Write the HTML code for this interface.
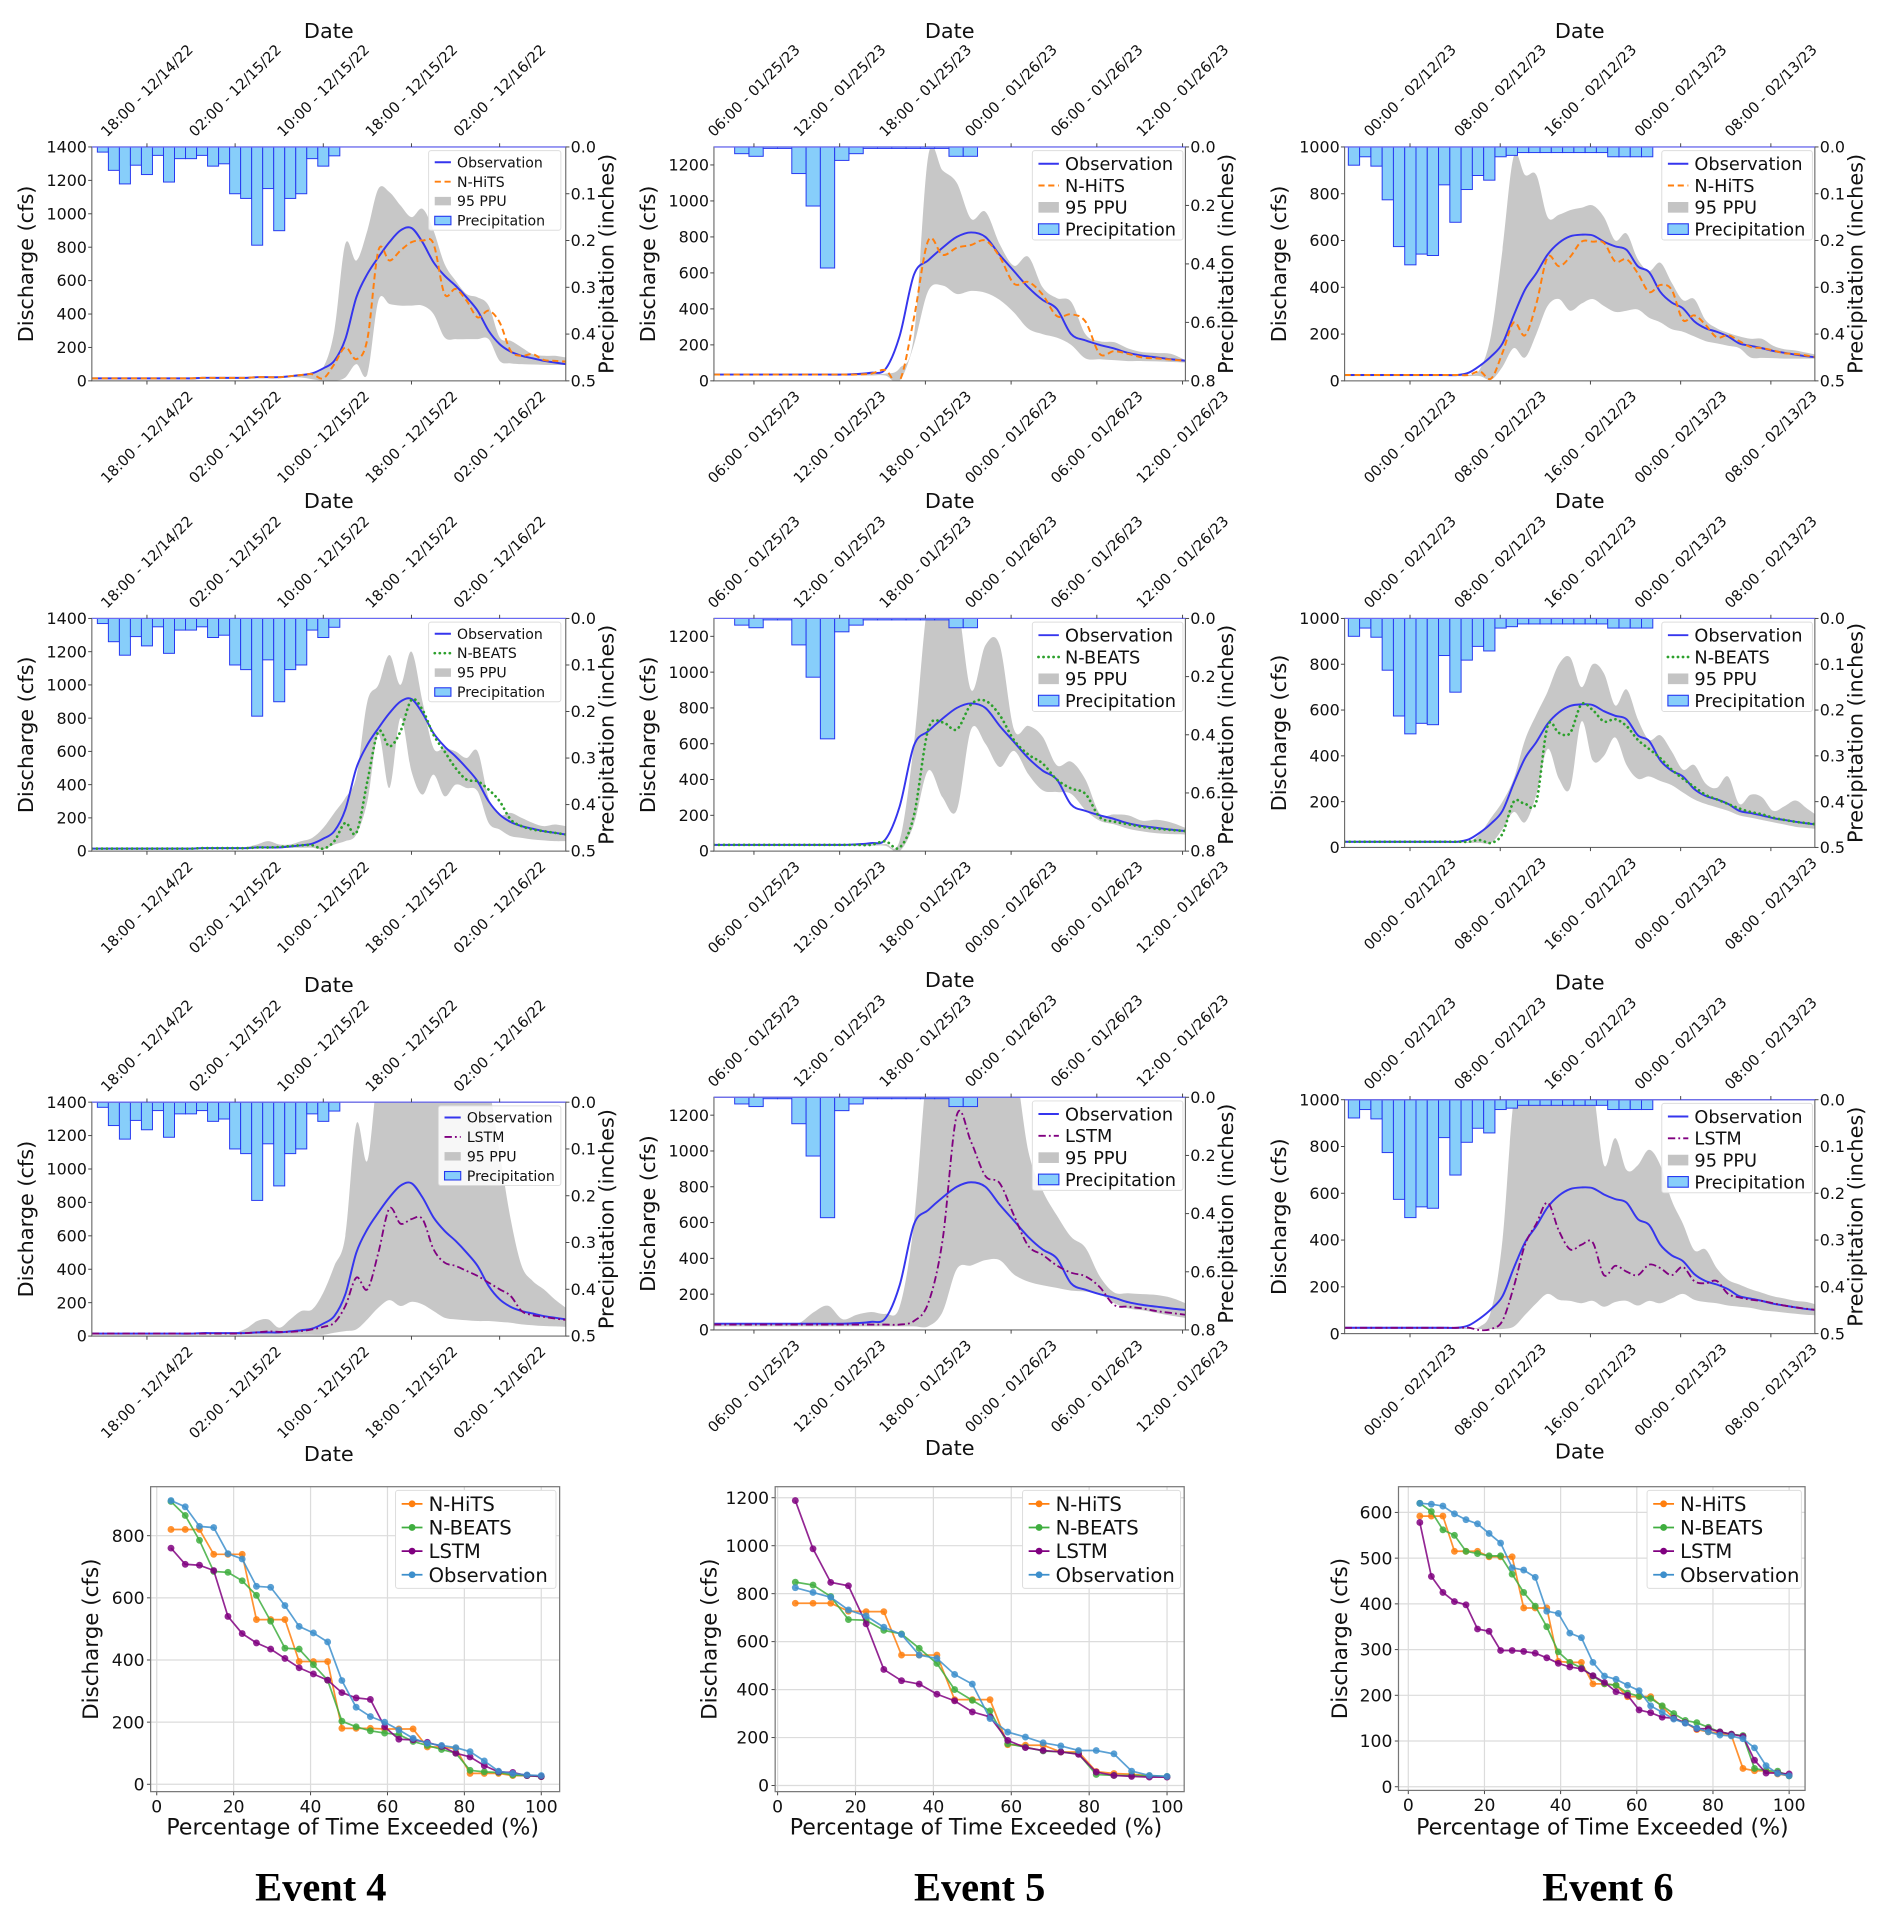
<!DOCTYPE html>
<html><head><meta charset="utf-8"><title>Events 4-6 discharge forecasts</title>
<style>
html,body{margin:0;padding:0;background:#fff;}
svg{display:block;font-family:"DejaVu Sans","Liberation Sans",sans-serif;}
</style></head>
<body>
<svg id="fig" xmlns="http://www.w3.org/2000/svg" width="1892" height="1919" viewBox="0 0 1545 1567" preserveAspectRatio="none">
<rect x="0" y="0" width="1545" height="1567" fill="#fff"/>
</svg>
<script>
// ---------- Event 4 (hourly, start 13:00 12/14/22) ----------
const ev4Ticks = [5, 13, 21, 29, 37];
const ev4TickLabels = ["18:00 - 12/14/22","02:00 - 12/15/22","10:00 - 12/15/22","18:00 - 12/15/22","02:00 - 12/16/22"];
const ev4Precip = [0.011,0.05,0.079,0.039,0.059,0.018,0.075,0.025,0.025,0.018,0.041,0.036,0.1,0.11,0.21,0.089,0.179,0.11,0.1,0.025,0.041,0.019];
const ev4Obs = [15,15,15,15,15,15,15,15,15,15,18,18,18,18,18,22,22,22,28,35,45,75,120,250,500,640,740,830,900,915,830,710,630,570,500,420,300,220,175,150,135,120,110,100];
const ev4NHiTS = [15,15,15,15,15,15,15,15,15,15,18,18,18,18,18,22,22,22,28,35,40,15,100,200,130,250,780,720,780,830,840,820,520,550,480,380,420,350,180,150,160,125,120,115];
const ev4NHiTSUp = [15,15,15,15,15,15,15,15,15,15,18,18,18,18,18,22,22,22,30,40,50,80,300,820,720,900,1150,1130,1050,980,1030,900,700,600,520,500,450,260,240,200,160,150,150,140];
const ev4NHiTSLo = [12,12,12,12,12,12,12,12,12,12,15,15,15,15,15,18,18,18,22,20,10,0,0,20,100,40,480,460,450,450,450,400,260,250,250,250,250,120,105,100,98,96,95,95];
const ev4NBEATS = [15,15,15,15,15,15,15,15,15,15,18,18,18,18,18,22,22,25,30,35,35,15,60,170,110,420,720,630,720,910,850,700,600,500,430,420,370,300,190,150,130,120,110,100];
const ev4NBEATSUp = [15,15,15,15,15,15,15,15,15,15,18,18,18,20,25,40,60,40,40,60,80,140,230,320,450,900,1000,1180,1000,1200,900,620,620,600,560,600,320,220,230,200,170,150,160,150];
const ev4NBEATSLo = [12,12,12,12,12,12,12,12,12,12,15,15,15,15,15,18,18,18,20,20,20,10,40,60,100,300,700,380,800,480,340,460,330,400,380,360,170,130,90,80,70,65,60,60];
const ev4LSTM = [15,15,15,15,15,15,15,15,15,15,15,15,15,15,18,22,28,25,25,30,40,55,80,180,350,280,500,764,673,700,700,520,440,420,390,360,320,280,240,150,125,115,105,97];
const ev4LSTMUp = [15,15,15,15,15,15,15,15,15,15,15,15,15,20,45,90,100,50,100,150,160,260,420,600,1270,1050,1600,1700,1700,1700,1700,1700,1700,1700,1700,1700,1500,1100,700,420,330,280,220,170];
const ev4LSTMLo = [8,8,8,8,8,8,8,8,8,8,8,8,8,8,8,8,8,8,8,8,8,8,20,30,40,100,170,215,180,205,190,150,110,100,95,90,90,85,80,70,65,60,58,55];
const ev4FdcNHiTS = [820,820,820,740,740,740,530,530,530,395,395,395,180,180,180,178,178,178,120,120,115,35,35,35,28,28,25];
const ev4FdcNBEATS = [910,865,785,685,682,655,608,525,438,435,385,335,203,185,172,165,160,138,125,112,100,45,40,38,30,28,25];
const ev4FdcLSTM = [760,708,705,688,540,485,455,435,405,375,355,335,295,278,273,185,145,143,135,122,100,88,60,40,38,28,25];
const ev4FdcObs = [913,893,830,826,742,725,637,634,575,508,487,458,334,248,218,200,175,148,132,125,118,105,75,42,35,30,28];

// ---------- Event 5 (hourly, start 03:00 01/25/23) ----------
const ev5Ticks = [2.8, 8.8, 14.8, 20.8, 26.8, 32.8];
const ev5TickLabels = ["06:00 - 01/25/23","12:00 - 01/25/23","18:00 - 01/25/23","00:00 - 01/26/23","06:00 - 01/26/23","12:00 - 01/26/23"];
const ev5Precip = [0.023,0.032,0.005,0.005,0.091,0.202,0.414,0.046,0.023,0.005,0.005,0.005,0.005,0.005,0.005,0.032,0.032];
const ev5Obs = [35,35,35,35,35,35,35,35,35,35,38,45,65,250,590,670,740,800,825,800,700,610,520,450,400,260,225,200,180,155,140,130,120,112];
const ev5NHiTS = [35,35,35,35,35,35,35,35,35,35,35,40,60,0,350,780,700,740,755,780,690,540,550,480,360,370,330,150,165,150,130,125,118,112];
const ev5NHiTSUp = [40,40,40,40,40,40,40,40,40,40,40,40,40,70,250,1250,1170,1100,900,940,760,640,690,520,460,440,260,220,215,180,160,155,150,115];
const ev5NHiTSLo = [30,30,30,30,30,30,30,30,30,30,30,30,30,0,200,500,530,483,500,490,450,380,290,260,240,200,125,120,115,110,110,108,105,102];
const ev5NBEATS = [35,35,35,35,35,35,35,35,35,35,35,35,55,20,200,680,720,680,820,840,760,620,540,490,400,350,320,190,165,150,135,125,118,112];
const ev5NBEATSUp = [40,40,40,40,40,40,40,40,40,40,40,40,40,60,600,1400,1400,1400,900,1150,1150,680,700,640,480,500,400,210,205,200,170,175,160,130];
const ev5NBEATSLo = [30,30,30,30,30,30,30,30,30,30,30,30,30,0,150,450,300,230,680,600,470,560,430,340,330,320,230,170,150,125,110,100,95,93];
const ev5LSTM = [30,30,30,30,30,30,30,30,30,30,30,30,30,30,50,150,500,1200,1050,860,820,640,470,420,360,320,300,240,140,130,120,105,95,85];
const ev5LSTMUp = [32,32,32,32,32,32,40,100,135,60,85,100,90,130,600,1500,1500,1500,1500,1500,1500,1500,1000,780,640,520,460,300,210,205,200,195,180,150];
const ev5LSTMLo = [20,20,20,20,20,20,20,20,20,20,20,20,20,20,20,20,100,340,360,390,390,310,270,250,235,220,215,200,150,120,110,95,80,67];
const ev5FdcNHiTS = [760,760,760,727,725,725,544,544,544,358,358,358,170,168,168,140,140,58,50,47,40,36];
const ev5FdcNBEATS = [848,836,788,692,689,647,632,572,509,400,355,311,174,160,144,140,132,46,42,42,40,38];
const ev5FdcLSTM = [1188,987,847,833,674,484,437,423,381,353,307,286,188,158,146,140,130,56,42,38,35,35];
const ev5FdcObs = [825,805,785,732,707,660,630,544,530,463,423,279,223,202,178,165,146,146,132,60,42,38];

// ---------- Event 6 (hourly, start ~18:10 02/11/23) ----------
const ev6Ticks = [5.8, 13.8, 21.8, 29.8, 37.8];
const ev6TickLabels = ["00:00 - 02/12/23","08:00 - 02/12/23","16:00 - 02/12/23","00:00 - 02/13/23","08:00 - 02/13/23"];
const ev6Precip = [0.039,0.021,0.041,0.113,0.213,0.252,0.229,0.232,0.081,0.161,0.091,0.061,0.071,0.021,0.018,0.012,0.012,0.012,0.012,0.012,0.012,0.012,0.012,0.021,0.021,0.021,0.021];
const ev6Obs = [25,25,25,25,25,25,25,25,25,25,25,35,65,105,160,280,390,460,540,590,618,625,622,595,575,560,490,465,380,335,310,255,225,210,190,160,150,140,128,120,112,105,100];
const ev6NHiTS = [25,25,25,25,25,25,25,25,25,25,25,25,40,10,120,250,195,330,529,490,530,595,595,590,510,520,460,380,410,390,260,280,240,186,195,170,145,140,130,118,115,108,100];
const ev6NHiTSUp = [25,25,25,25,25,25,25,25,25,25,25,25,50,200,560,960,880,880,700,710,730,740,750,700,600,630,520,470,505,420,345,350,260,225,205,190,180,180,150,135,130,120,110];
const ev6NHiTSLo = [20,20,20,20,20,20,20,20,20,20,20,20,20,5,60,140,100,200,320,350,300,330,350,320,295,300,305,270,250,221,210,190,170,160,150,140,100,98,97,95,95,95,95];
const ev6NBEATS = [25,25,25,25,25,25,25,25,25,25,25,25,32,20,60,200,190,200,530,500,500,625,600,550,560,530,470,430,390,340,300,265,230,210,190,170,155,145,130,120,112,106,100];
const ev6NBEATSUp = [25,25,25,25,25,25,25,25,25,25,25,25,60,130,200,300,470,580,680,800,830,700,800,760,620,690,560,470,490,420,340,360,280,260,310,190,230,220,160,180,205,170,136];
const ev6NBEATSLo = [20,20,20,20,20,20,20,20,20,20,20,20,20,20,80,155,110,230,430,300,260,550,380,400,480,360,300,310,290,272,240,210,190,175,160,140,130,120,110,100,90,85,80];
const ev6LSTM = [25,25,25,25,25,25,25,25,25,25,25,25,15,20,55,200,380,470,560,440,360,380,390,250,290,265,250,295,280,250,285,225,215,225,170,155,145,140,130,120,112,106,100];
const ev6LSTMUp = [25,25,25,25,25,25,25,25,25,25,25,25,30,100,400,1000,1100,1100,1100,1100,1100,1100,1050,720,836,700,720,786,720,570,470,357,360,280,230,210,190,175,160,150,140,135,121];
const ev6LSTMLo = [20,20,20,20,20,20,20,20,20,20,20,20,20,20,20,30,80,130,170,145,140,130,140,115,135,140,120,140,130,150,170,145,135,130,120,115,110,100,95,90,85,80,78];
const ev6FdcNHiTS = [592,592,592,515,515,515,503,503,503,391,391,391,274,272,272,225,225,222,197,197,197,175,150,140,125,120,117,112,40,35,35,28,24];
const ev6FdcNBEATS = [620,602,562,550,515,510,505,505,465,425,395,350,295,272,260,242,225,222,205,198,193,177,160,145,140,130,120,115,112,40,35,34,24];
const ev6FdcLSTM = [578,460,425,405,398,345,340,298,298,296,292,282,270,262,258,243,228,208,200,168,162,152,150,140,127,127,120,115,110,58,30,30,28];
const ev6FdcObs = [620,618,614,597,584,575,554,533,479,474,458,384,379,336,326,272,242,235,222,210,177,163,148,139,128,120,113,111,105,85,46,29,24];

const NS = 'http://www.w3.org/2000/svg';
const svg = document.getElementById('fig');
function mk(tag, attrs, parent){
  const e = document.createElementNS(NS, tag);
  for (const k in attrs) e.setAttribute(k, attrs[k]);
  (parent || svg).appendChild(e);
  return e;
}
function txt(str, x, y, size, anchor, parent){
  const t = mk('text', {x:x, y:y, 'font-size':size, 'text-anchor':anchor || 'middle', fill:'#111'}, parent);
  t.textContent = str;
  return t;
}
function smoothPath(pts){
  let d = 'M' + pts[0][0].toFixed(2) + ',' + pts[0][1].toFixed(2);
  for (let i = 0; i < pts.length - 1; i++){
    const p0 = pts[Math.max(0, i-1)], p1 = pts[i], p2 = pts[i+1], p3 = pts[Math.min(pts.length-1, i+2)];
    const c1x = p1[0] + (p2[0]-p0[0])/6, c1y = p1[1] + (p2[1]-p0[1])/6;
    const c2x = p2[0] - (p3[0]-p1[0])/6, c2y = p2[1] - (p3[1]-p1[1])/6;
    d += ' C' + c1x.toFixed(2) + ',' + c1y.toFixed(2) + ' ' + c2x.toFixed(2) + ',' + c2y.toFixed(2) + ' ' + p2[0].toFixed(2) + ',' + p2[1].toFixed(2);
  }
  return d;
}

const STYLES = {
  'N-HiTS': {stroke:'#ff7f0e', dash:'5,3', width:1.6, cap:'butt'},
  'N-BEATS': {stroke:'#2ca02c', dash:'0.1,4', width:2.2, cap:'round'},
  'LSTM': {stroke:'#800080', dash:'6,2.5,1.5,2.5', width:1.5, cap:'butt'}
};
let clipId = 0;

function drawTS(p){
  const g = mk('g', {});
  
  
  const W = p.x1 - p.x0, H = p.y1 - p.y0;
  const sx = h => p.x0 + h / p.dom * W;
  const sy = v => p.y1 - v / p.ymax * H;
  const sp = v => p.y0 + v / p.pmax * H;
  const cid = 'clip' + (clipId++);
  const defs = mk('defs', {}, g);
  mk('rect', {x:p.x0, y:p.y0, width:W, height:H}, mk('clipPath', {id:cid}, defs));
  const plot = mk('g', {'clip-path':'url(#' + cid + ')'}, g);

  const up = p.up.map((v,i) => [sx(i), sy(v)]);
  const lo = p.lo.map((v,i) => [sx(i), sy(v)]).reverse();
  const band = mk('path', {d: smoothPath(up) + ' L' + smoothPath(lo).slice(1) + ' Z', fill:'#c4c4c4', stroke:'none', opacity:'0.95'}, plot);
  
  

  const obs = mk('path', {d: smoothPath(p.obs.map((v,i) => [sx(i), sy(v)])), fill:'none', stroke:'#3535ee', 'stroke-width':1.6}, plot);
  
  

  const st = STYLES[p.model];
  const ml = mk('path', {d: smoothPath(p.pred.map((v,i) => [sx(i), sy(v)])), fill:'none', stroke:st.stroke, 'stroke-width':st.width, 'stroke-dasharray':st.dash, 'stroke-linecap':st.cap}, plot);
  
  

  const bw = sx(1) - sx(0);
  p.precip.forEach((v,i) => {
    const r = mk('rect', {x: sx(p.barOff + i), y: p.y0, width: bw, height: Math.max(0.6, sp(v) - p.y0), fill:'#87cefa', stroke:'#2638f0', 'stroke-width':0.8}, plot);
    
    
  });

  mk('rect', {x:p.x0, y:p.y0, width:W, height:H, fill:'none', stroke:'#666', 'stroke-width':0.9}, g);
  mk('line', {x1:p.x0, y1:p.y0, x2:p.x1, y2:p.y0, stroke:'#6a6af5', 'stroke-width':1}, g);

  for (let v = 0; v <= p.ymax + 0.1; v += p.ystep){
    const y = sy(v);
    mk('line', {x1:p.x0-3, y1:y, x2:p.x0, y2:y, stroke:'#444', 'stroke-width':0.8}, g);
    const t = txt(String(v), p.x0 - 4, y + 4.6, 13, 'end', g);
    
    
  }
  for (let v = 0; v <= p.pmax + 1e-9; v += p.pstep){
    const y = sp(v);
    mk('line', {x1:p.x1, y1:y, x2:p.x1+3, y2:y, stroke:'#444', 'stroke-width':0.8}, g);
    const t = txt(v.toFixed(1), p.x1 + 4, y + 4.6, 13, 'start', g);
    
    
  }
  p.ticks.forEach((h,i) => {
    const x = sx(h);
    mk('line', {x1:x, y1:p.y1, x2:x, y2:p.y1+3, stroke:'#444', 'stroke-width':0.8}, g);
    mk('line', {x1:x, y1:p.y0-3, x2:x, y2:p.y0, stroke:'#444', 'stroke-width':0.8}, g);
    const tb = txt(p.labels[i], 0, 4, 12, 'middle', g);
    tb.setAttribute('transform', 'translate(' + x + ',' + (p.y1 + 46) + ') rotate(-45)');
    
    
    const tt = txt(p.labels[i], 0, 4, 12, 'middle', g);
    tt.setAttribute('transform', 'translate(' + x + ',' + (p.y0 - 46) + ') rotate(-45)');
    
    
  });
  const yl = txt('Discharge (cfs)', 0, 0, 17, 'middle', g);
  yl.setAttribute('transform', 'translate(' + (p.x0 - 48) + ',' + (p.y0 + H/2) + ') rotate(-90)');
  
  
  const pl = txt('Precipitation (inches)', 0, 0, 17, 'middle', g);
  pl.setAttribute('transform', 'translate(' + (p.x1 + 39) + ',' + (p.y0 + H/2) + ') rotate(-90)');
  
  
  const dt = txt('Date', (p.x0 + p.x1)/2, p.dateTop, 17, 'middle', g);
  
  
  if (p.dateBottom){
    const db = txt('Date', (p.x0 + p.x1)/2, p.dateBottom, 17, 'middle', g);
    
    
  }

  const L = p.leg;
  const lg = mk('g', {}, g);
  
  
  mk('rect', {x:L.x, y:L.y, width:L.w, height:L.h, rx:2, fill:'#fff', 'fill-opacity':0.85, stroke:'#ddd', 'stroke-width':0.8}, lg);
  const rowH = L.h / 4.1, fs = L.fs, sw = L.fs * 1.15;
  const names = ['Observation', p.model, '95 PPU', 'Precipitation'];
  names.forEach((nm, i) => {
    const cy = L.y + rowH * (i + 0.6);
    const sx0 = L.x + 5, sx1 = sx0 + sw;
    if (i === 0) mk('line', {x1:sx0, y1:cy, x2:sx1, y2:cy, stroke:'#3535ee', 'stroke-width':1.6}, lg);
    if (i === 1) mk('line', {x1:sx0, y1:cy, x2:sx1, y2:cy, stroke:st.stroke, 'stroke-width':st.width, 'stroke-dasharray':st.dash, 'stroke-linecap':st.cap}, lg);
    if (i === 2) mk('rect', {x:sx0, y:cy - fs*0.3, width:sw, height:fs*0.6, fill:'#c4c4c4'}, lg);
    if (i === 3) mk('rect', {x:sx0, y:cy - fs*0.3, width:sw, height:fs*0.6, fill:'#87cefa', stroke:'#2638f0', 'stroke-width':0.9}, lg);
    const t = txt(nm, sx1 + 5, cy + fs*0.36, fs, 'start', lg);
    
    
  });
}

function drawFDC(p){
  const g = mk('g', {});
  
  
  const sx = v => p.ax0 + v / 100 * (p.ax100 - p.ax0);
  const sy = v => p.ay0 - v / p.yref * (p.ay0 - p.ayref);
  for (let v = 0; v <= 100; v += 20){
    mk('line', {x1:sx(v), y1:p.by0, x2:sx(v), y2:p.by1, stroke:'#dcdcdc', 'stroke-width':1}, g);
    mk('line', {x1:sx(v), y1:p.by1, x2:sx(v), y2:p.by1+3, stroke:'#444', 'stroke-width':0.8}, g);
    const t = txt(String(v), sx(v), p.by1 + 17, 14, 'middle', g);
    
    
  }
  for (let v = 0; v <= p.ymax; v += p.ystep){
    mk('line', {x1:p.bx0, y1:sy(v), x2:p.bx1, y2:sy(v), stroke:'#dcdcdc', 'stroke-width':1}, g);
    mk('line', {x1:p.bx0-3, y1:sy(v), x2:p.bx0, y2:sy(v), stroke:'#444', 'stroke-width':0.8}, g);
    const t = txt(String(v), p.bx0 - 5, sy(v) + 5, 14, 'end', g);
    
    
  }
  mk('rect', {x:p.bx0, y:p.by0, width:p.bx1-p.bx0, height:p.by1-p.by0, fill:'none', stroke:'#777', 'stroke-width':1}, g);
  const series = [['N-HiTS', p.nhits, '#ff7f0e'], ['N-BEATS', p.nbeats, '#3fae3f'], ['LSTM', p.lstm, '#800080'], ['Observation', p.obs, '#3d8fcc']];
  series.forEach(s => {
    const n = s[1].length;
    const pts = s[1].map((v,i) => [sx((i+1) / n * 100), sy(v)]);
    const pl = mk('polyline', {points: pts.map(q => q[0].toFixed(2) + ',' + q[1].toFixed(2)).join(' '), fill:'none', stroke:s[2], 'stroke-width':1.4, opacity:0.85}, g);
    
    
    pts.forEach(q => {
      const c = mk('circle', {cx:q[0], cy:q[1], r:2.8, fill:s[2], opacity:0.85}, g);
      
      
    });
  });
  const lg = mk('g', {}, g);
  
  
  mk('rect', {x:p.lx, y:p.by0 + 3, width:p.bx1 - p.lx - 3, height:80, rx:2, fill:'#fff', stroke:'#ddd', 'stroke-width':0.8}, lg);
  series.forEach((s, i) => {
    const cy = p.by0 + 14 + i * 19.3;
    mk('line', {x1:p.lx + 5, y1:cy, x2:p.lx + 22, y2:cy, stroke:s[2], 'stroke-width':1.4}, lg);
    mk('circle', {cx:p.lx + 13.5, cy:cy, r:2.8, fill:s[2]}, lg);
    const t = txt(s[0], p.lx + 27, cy + 5.8, 16, 'start', lg);
    
    
  });
  const yl = txt('Discharge (cfs)', 0, 0, 17.5, 'middle', g);
  yl.setAttribute('transform', 'translate(' + p.ylx + ',' + ((p.by0 + p.by1)/2) + ') rotate(-90)');
  
  
  const xl = txt('Percentage of Time Exceeded (%)', (p.ax0 + p.ax100)/2 + 3, 1498, 18, 'middle', g);
  
  
  const et = mk('text', {x:p.titleX, y:1552, 'font-size':33, 'font-weight':'bold', 'text-anchor':'middle', 'font-family':'"Liberation Serif", serif', fill:'#000'});
  et.textContent = p.title;
  
  
}

function legE4(y){ return {x:350, y:y, w:108, h:65, fs:11.5}; }
function legBig(x, y){ return {x:x, y:y, w:123, h:73, fs:14.5}; }

const cols = [
  {ev:4, x0:75, x1:462, dom:43, ymax:1400, ystep:200, pmax:0.5, pstep:0.1, ticks:ev4Ticks, labels:ev4TickLabels, precip:ev4Precip, barOff:0.5, obs:ev4Obs},
  {ev:5, x0:583, x1:968, dom:33, ymax:1300, ystep:200, pmax:0.8, pstep:0.2, ticks:ev5Ticks, labels:ev5TickLabels, precip:ev5Precip, barOff:1.45, obs:ev5Obs},
  {ev:6, x0:1098, x1:1482, dom:41.7, ymax:1000, ystep:200, pmax:0.5, pstep:0.1, ticks:ev6Ticks, labels:ev6TickLabels, precip:ev6Precip, barOff:0.33, obs:ev6Obs}
];
const rows = [
  {model:'N-HiTS', y:[[120,311],[120,311],[120,311]], date:[25,25,25], preds:[ev4NHiTS, ev5NHiTS, ev6NHiTS], ups:[ev4NHiTSUp, ev5NHiTSUp, ev6NHiTSUp], los:[ev4NHiTSLo, ev5NHiTSLo, ev6NHiTSLo]},
  {model:'N-BEATS', y:[[505,695],[505,695],[505,692]], date:[409,409,409], preds:[ev4NBEATS, ev5NBEATS, ev6NBEATS], ups:[ev4NBEATSUp, ev5NBEATSUp, ev6NBEATSUp], los:[ev4NBEATSLo, ev5NBEATSLo, ev6NBEATSLo]},
  {model:'LSTM', y:[[900,1091],[896,1086],[898,1089]], date:[804,800,802], bottom:[1193,1188,1191], preds:[ev4LSTM, ev5LSTM, ev6LSTM], ups:[ev4LSTMUp, ev5LSTMUp, ev6LSTMUp], los:[ev4LSTMLo, ev5LSTMLo, ev6LSTMLo]}
];
rows.forEach((r, ri) => {
  cols.forEach((c, ci) => {
    const y0 = r.y[ci][0], y1 = r.y[ci][1];
    let leg;
    if (ci === 0) leg = (ri === 2) ? {x:358, y:y0+3, w:100, h:65, fs:11.5} : legE4(y0+3);
    else leg = legBig(c.x1 - 125, y0 + 3);
    drawTS({name:'event' + c.ev + '-' + r.model.toLowerCase() + '-panel', x0:c.x0, x1:c.x1, y0:y0, y1:y1, dom:c.dom, ymax:c.ymax, ystep:c.ystep, pmax:c.pmax, pstep:c.pstep,
      ticks:c.ticks, labels:c.labels, precip:c.precip, barOff:c.barOff, obs:c.obs, pred:r.preds[ci], up:r.ups[ci], lo:r.los[ci],
      model:r.model, dateTop:r.date[ci] + 6, dateBottom: r.bottom ? r.bottom[ci] : null, leg:leg});
  });
});

drawFDC({name:'event4-fdc-panel', title:'Event 4', titleX:262, bx0:123, bx1:457, by0:1214, by1:1463, ax0:128, ax100:442, ay0:1457, ayref:1254, yref:800, ymax:800, ystep:200, lx:323, ylx:80,
  nhits:ev4FdcNHiTS, nbeats:ev4FdcNBEATS, lstm:ev4FdcLSTM, obs:ev4FdcObs});
drawFDC({name:'event5-fdc-panel', title:'Event 5', titleX:800, bx0:633, bx1:967, by0:1214, by1:1463, ax0:635, ax100:953, ay0:1458, ayref:1223, yref:1200, ymax:1200, ystep:200, lx:835, ylx:585,
  nhits:ev5FdcNHiTS, nbeats:ev5FdcNBEATS, lstm:ev5FdcLSTM, obs:ev5FdcObs});
drawFDC({name:'event6-fdc-panel', title:'Event 6', titleX:1313, bx0:1142, bx1:1474, by0:1214, by1:1462, ax0:1150, ax100:1461, ay0:1459, ayref:1235, yref:600, ymax:600, ystep:100, lx:1345, ylx:1100,
  nhits:ev6FdcNHiTS, nbeats:ev6FdcNBEATS, lstm:ev6FdcLSTM, obs:ev6FdcObs});
</script>
</body></html>
